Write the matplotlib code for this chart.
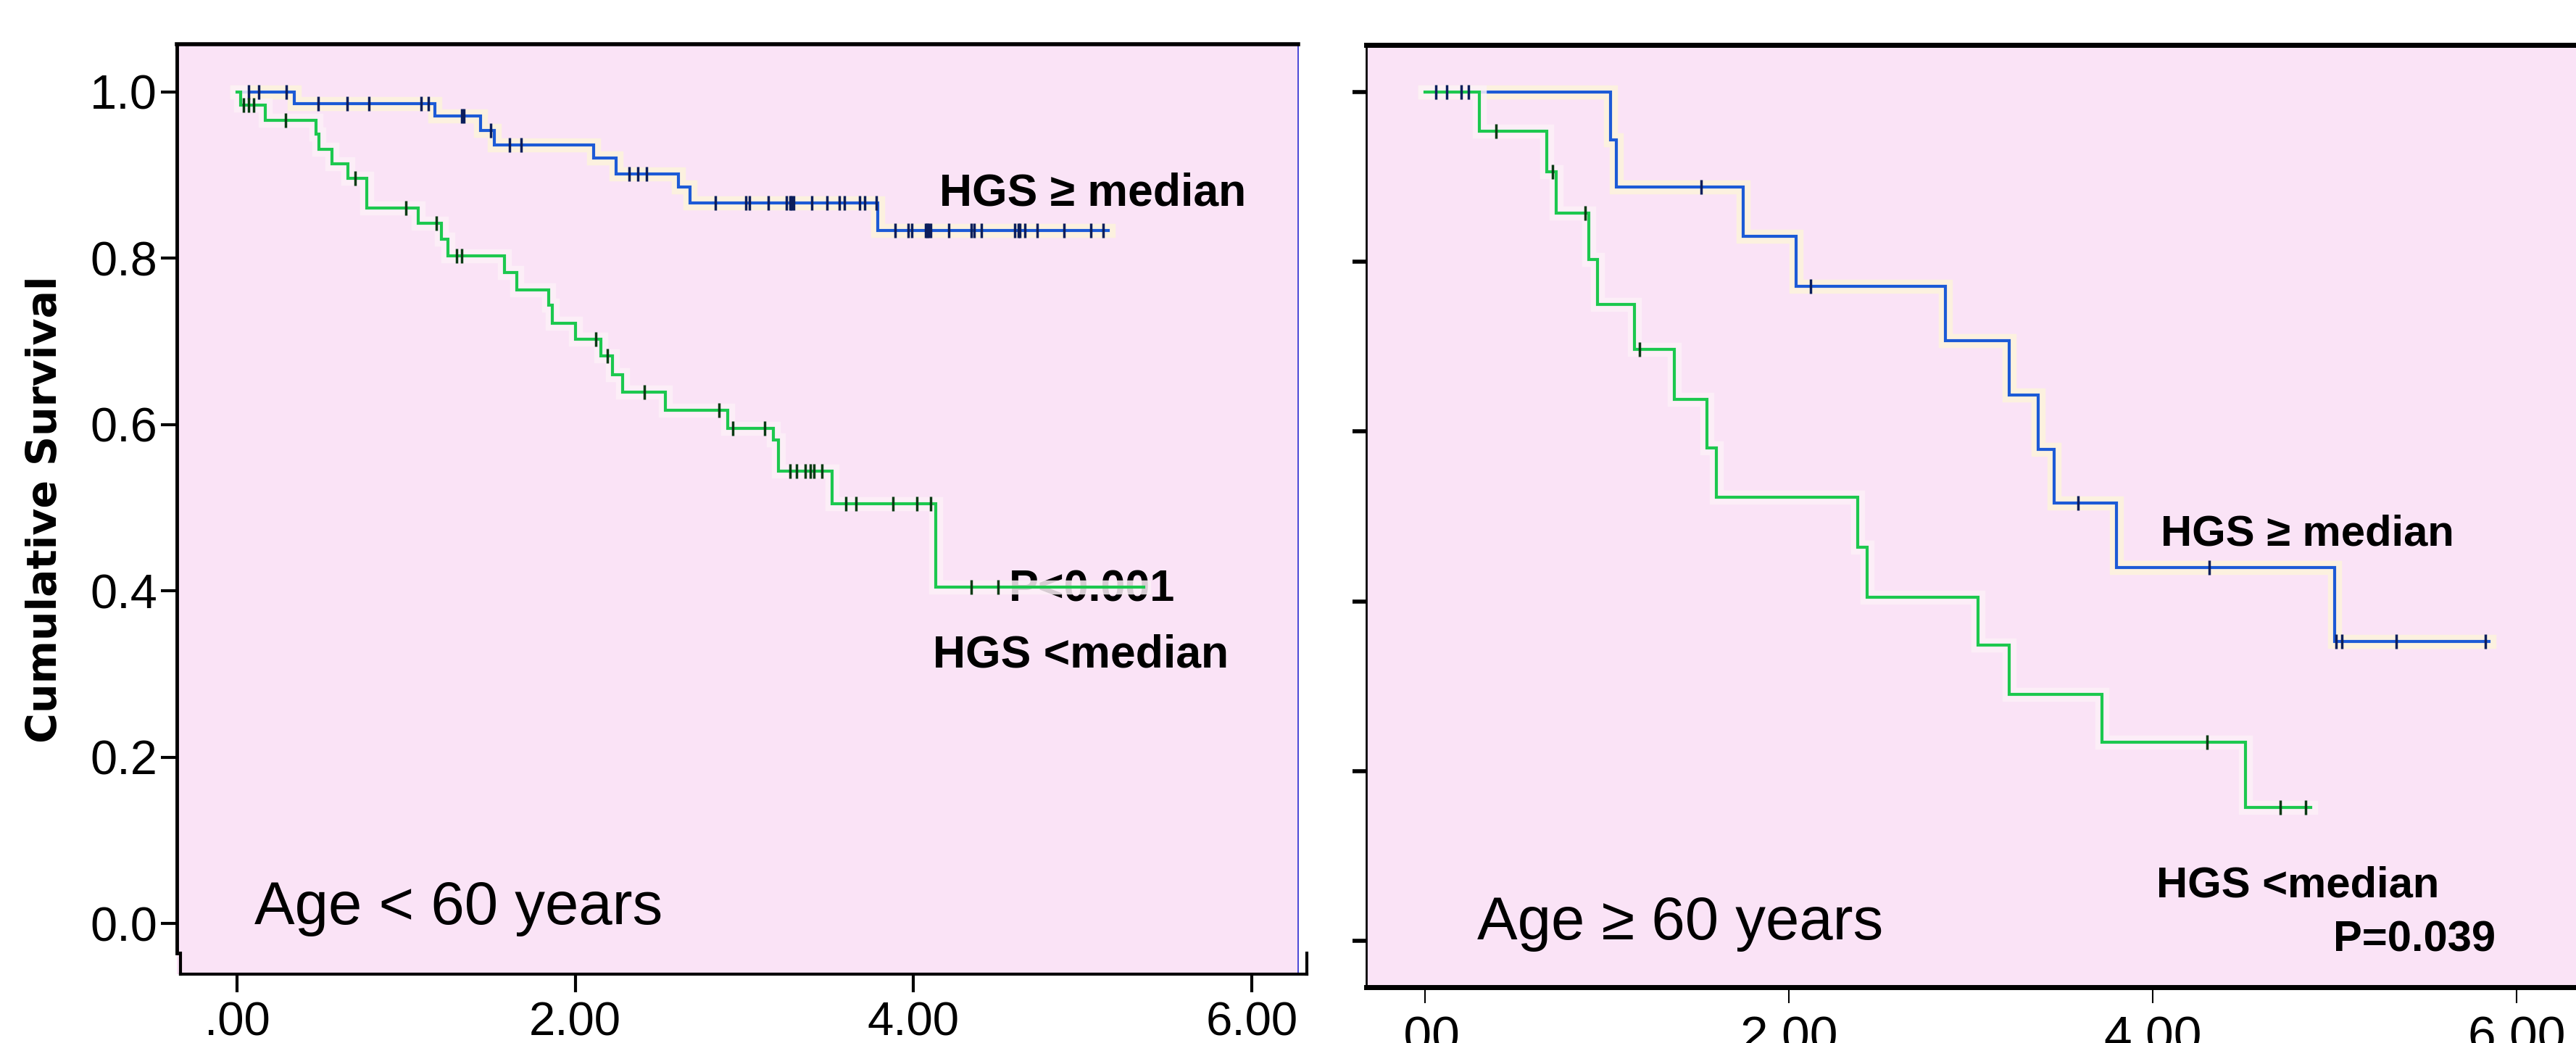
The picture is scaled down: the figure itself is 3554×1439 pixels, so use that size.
import numpy as np
import matplotlib
matplotlib.use("Agg")
import matplotlib.pyplot as plt
import matplotlib.patheffects as pe

# ---------------- data ----------------
# Age < 60 years, HGS >= median
young_hi_t = [0.00, 0.34, 1.17, 1.44, 1.52, 2.11, 2.24, 2.61, 2.68, 3.79, 5.15]
young_hi_s = [1.000, 0.986, 0.971, 0.953, 0.936, 0.920, 0.901, 0.885, 0.866, 0.833, 0.833]
young_hi_cens = [0.07, 0.13, 0.29, 0.48, 0.65, 0.78, 1.09, 1.13, 1.33, 1.34, 1.50, 1.61,
                 1.68, 2.32, 2.37, 2.42, 2.83, 3.01, 3.03, 3.14, 3.25, 3.27, 3.28, 3.29,
                 3.40, 3.49, 3.56, 3.59, 3.68, 3.71, 3.78, 3.89, 3.97, 3.99, 4.07, 4.08,
                 4.09, 4.10, 4.21, 4.34, 4.36, 4.40, 4.60, 4.62, 4.63, 4.66, 4.73, 4.89,
                 5.05, 5.12]

# Age < 60 years, HGS < median
young_lo_t = [0.00, 0.02, 0.165, 0.465, 0.485, 0.56, 0.655, 0.766, 1.07, 1.21, 1.245,
              1.58, 1.655, 1.845, 1.865, 2.00, 2.15, 2.22, 2.28, 2.535, 2.90, 3.17,
              3.20, 3.52, 4.13, 5.36]
young_lo_s = [1.000, 0.984, 0.966, 0.949, 0.931, 0.913, 0.896, 0.860, 0.842, 0.823, 0.803,
              0.783, 0.762, 0.743, 0.722, 0.702, 0.682, 0.660, 0.639, 0.617, 0.595, 0.581,
              0.544, 0.505, 0.404, 0.404]
young_lo_cens = [0.04, 0.07, 0.10, 0.285, 0.70, 1.00, 1.18, 1.30, 1.33, 2.12, 2.19, 2.41,
                 2.85, 2.93, 3.12, 3.27, 3.31, 3.36, 3.39, 3.41, 3.46, 3.60, 3.66, 3.88,
                 4.02, 4.10, 4.34, 4.50]

# Age >= 60 years, HGS >= median
old_hi_t = [0.00, 1.02, 1.05, 1.75, 2.04, 2.86, 3.21, 3.37, 3.46, 3.80, 5.00, 5.85]
old_hi_s = [1.000, 0.944, 0.888, 0.830, 0.771, 0.707, 0.643, 0.579, 0.516, 0.440, 0.353, 0.353]
old_hi_cens = [0.06, 0.12, 0.20, 0.24, 1.52, 2.12, 3.59, 4.31, 5.01, 5.04, 5.34, 5.83]

# Age >= 60 years, HGS < median
old_lo_t = [0.00, 0.30, 0.67, 0.72, 0.90, 0.95, 1.15, 1.37, 1.55, 1.60, 2.38, 2.43,
            3.04, 3.21, 3.72, 4.51, 4.87]
old_lo_s = [1.000, 0.954, 0.906, 0.857, 0.803, 0.750, 0.697, 0.638, 0.581, 0.523, 0.464,
            0.405, 0.348, 0.290, 0.234, 0.157, 0.157]
old_lo_cens = [0.39, 0.70, 0.88, 1.18, 4.30, 4.70, 4.84]

y_ticks = [0.0, 0.2, 0.4, 0.6, 0.8, 1.0]
y_tick_labels = ["0.0", "0.2", "0.4", "0.6", "0.8", "1.0"]
x_ticks = [0, 2, 4, 6]
x_tick_labels = [".00", "2.00", "4.00", "6.00"]

# ---------------- style ----------------
PINK = "#FAE3F6"
BLUE = "#1C5AD6"
GREEN = "#1CC84E"
BLUE_DARK = "#0B1E5C"
GREEN_DARK = "#0A3A14"
SANS = ["Liberation Sans", "DejaVu Sans"]

W, H = 3554, 1439
fig = plt.figure(figsize=(W / 100, H / 100), dpi=100)
fig.patch.set_facecolor("white")


def px_axes(x0, y0, x1, y1):
    """axes from pixel box (top-left origin)"""
    return fig.add_axes([x0 / W, 1 - y1 / H, (x1 - x0) / W, (y1 - y0) / H])


def km(ax, t, s, cens, color, dark, halo):
    t = np.asarray(t)
    s = np.asarray(s)
    ax.step(t, s, where="post", color=color, lw=3.0, zorder=3, solid_joinstyle="miter",
            path_effects=[pe.Stroke(linewidth=14, foreground=halo, alpha=0.85), pe.Normal()])
    c = np.asarray(cens)
    cy = s[np.searchsorted(t, c, side="right") - 1]
    ax.plot(c, cy, linestyle="none", marker="|", markersize=15, mew=2.5, color=dark, zorder=4)


# ---------------- left panel ----------------
axL = px_axes(244, 61, 1791, 1344)
axL.set_facecolor(PINK)
axL.set_xlim(-0.356, 6.275)
axL.set_ylim(-0.061, 1.0571)

km(axL, young_hi_t, young_hi_s, young_hi_cens, BLUE, BLUE_DARK, "#FDF4DC")
km(axL, young_lo_t, young_lo_s, young_lo_cens, GREEN, GREEN_DARK, "#FDF1F8")

axL.set_yticks(y_ticks, y_tick_labels)
axL.set_xticks(x_ticks, x_tick_labels)
axL.tick_params(axis="y", direction="out", length=16, width=3, pad=3.5, labelsize=48)
axL.tick_params(axis="x", direction="out", length=18, width=3, pad=9, labelsize=47)
for lab in axL.get_xticklabels() + axL.get_yticklabels():
    lab.set_family(SANS)

axL.spines["top"].set_linewidth(4)
axL.spines["left"].set_linewidth(3.5)
axL.spines["left"].set_bounds(-0.036, 1.0571)
axL.spines["bottom"].set_linewidth(3)
axL.spines["bottom"].set_bounds(-0.334, 6.327)
axL.spines["right"].set_linewidth(1.2)
axL.spines["right"].set_color("#2B2BD0")
for xe in (-0.334, 6.327):
    axL.plot([xe, xe], [-0.061, -0.036], color="black", lw=3, clip_on=False, zorder=5)

axL.set_ylabel("Cumulative Survival", fontsize=41, fontweight="bold",
               family=["DejaVu Sans"], va="center")
axL.yaxis.set_label_coords(-0.1176, 0.5)

axL.text(4.153, 0.863, "HGS \u2265 median", fontsize=45, fontweight="bold",
         family=SANS, ha="left", va="baseline", zorder=2)
axL.text(4.565, 0.387, "P<0.001", fontsize=44, fontweight="bold",
         family=SANS, ha="left", va="baseline", zorder=2)
axL.text(4.115, 0.308, "HGS <median", fontsize=45, fontweight="bold",
         family=SANS, ha="left", va="baseline", zorder=2)
axL.text(0.103, -0.001, "Age < 60 years", fontsize=60,
         family=SANS, ha="left", va="baseline", zorder=2)

# ---------------- right panel ----------------
axR = px_axes(1885, 62, 3554, 1362)
axR.set_facecolor(PINK)
axR.set_xlim(-0.3227, 6.327)
axR.set_ylim(-0.0547, 1.0555)

km(axR, old_hi_t, old_hi_s, old_hi_cens, BLUE, BLUE_DARK, "#FDF4DC")
km(axR, old_lo_t, old_lo_s, old_lo_cens, GREEN, GREEN_DARK, "#FDF1F8")

axR.set_yticks(y_ticks, y_tick_labels)
axR.set_xticks(x_ticks, x_tick_labels)
axR.tick_params(axis="y", direction="out", length=14, width=4, labelleft=False)
axR.tick_params(axis="x", direction="out", length=16, width=1.5, pad=11.5, labelsize=50)
for lab in axR.get_xticklabels():
    lab.set_family(SANS)

axR.spines["top"].set_linewidth(5)
axR.spines["left"].set_linewidth(2)
axR.spines["bottom"].set_linewidth(5)
axR.spines["right"].set_visible(False)

axR.text(4.044, 0.466, "HGS \u2265 median", fontsize=43, fontweight="bold",
         family=SANS, ha="left", va="baseline", zorder=2)
axR.text(4.02, 0.052, "HGS <median", fontsize=43, fontweight="bold",
         family=SANS, ha="left", va="baseline", zorder=2)
axR.text(5.886, -0.0128, "P=0.039", fontsize=43, fontweight="bold",
         family=SANS, ha="right", va="baseline", zorder=2)
axR.text(0.285, 0.0017, "Age \u2265 60 years", fontsize=60,
         family=SANS, ha="left", va="baseline", zorder=2)

fig.savefig("out.png", dpi=100, facecolor="white")
